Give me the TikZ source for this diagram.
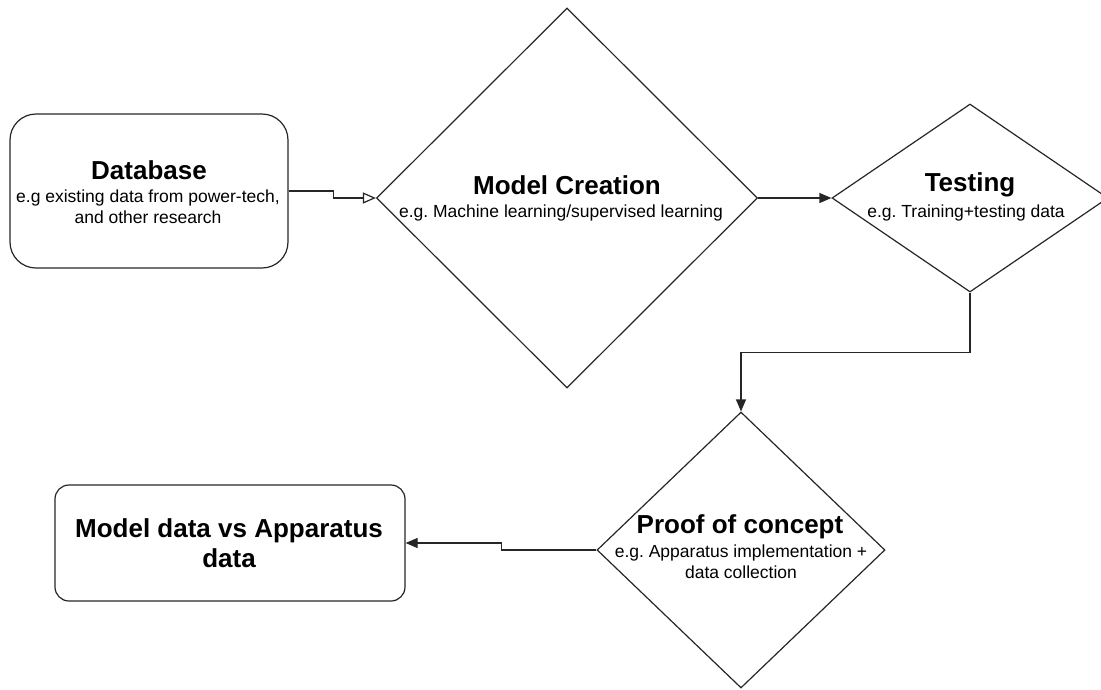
\documentclass[tikz,border=0pt]{standalone}
\usepackage{fontspec}
\setmainfont{Liberation Sans}
\usetikzlibrary{shapes.geometric,arrows.meta}
\frenchspacing
\begin{document}
\begin{tikzpicture}[x=1pt,y=-1pt,
  line/.style={draw=black!85,line width=1.2pt},
  rbox/.style={line,rectangle,rounded corners=#1,inner sep=0pt},
  dia/.style={line,diamond,inner sep=0pt},
  title/.style={font=\bfseries\fontsize{26}{29}\selectfont,inner sep=0pt},
  sub/.style={font=\fontsize{17.5}{20.5}\selectfont,align=center,inner sep=0pt},
  conn/.style={line,-{Triangle[length=12pt,width=10pt]}},
  oconn/.style={line,-{Triangle[open,length=13pt,width=11pt]}}]
\useasboundingbox (0,0) rectangle (1101,689);

% boxes
\node[rbox=26pt,minimum width=278pt,minimum height=154pt] (db) at (149,191) {};
\node[rbox=14pt,minimum width=350pt,minimum height=116pt] (md) at (230,543) {};

% decision shapes
\node[dia,minimum width=381pt,minimum height=380pt] (mc) at (567,198) {};
\node[dia,minimum width=276pt,minimum height=188pt] (ts) at (970,198) {};
\node[dia,minimum width=288pt,minimum height=276pt] (pc) at (741,550) {};

% labels
\node[title] (dbt) at (149,170) {Database};
\node[sub,anchor=north] (dbs) at (148,190) {e.g existing data from power-tech,\\and other research};

\node[title] (mct) at (567,185) {Model Creation};
\node[sub] (mcs) at (561,213) {e.g. Machine learning/supervised learning};

\node[title] (tst) at (970,185) {Testing};
\node[sub] (tss) at (966,213) {e.g. Training+testing data};

\node[title] (pct) at (740,527) {Proof of concept};
\node[sub,anchor=north] (pcs) at (741,545) {e.g. Apparatus implementation +\\data collection};

\node[title,align=center,font=\bfseries\fontsize{26}{30}\selectfont] (mdt) at (229,543) {Model data vs Apparatus\\data};

% connectors
\draw[oconn] (db.east) -- ++(45,0) |- (mc.west);
\draw[conn] (mc.east) -- (ts.west);
\draw[conn] (ts.south) -- ++(0,60) -| (pc.north);
\draw[conn] (pc.west) -- ++(-95,0) |- (md.east);
\end{tikzpicture}
\end{document}
